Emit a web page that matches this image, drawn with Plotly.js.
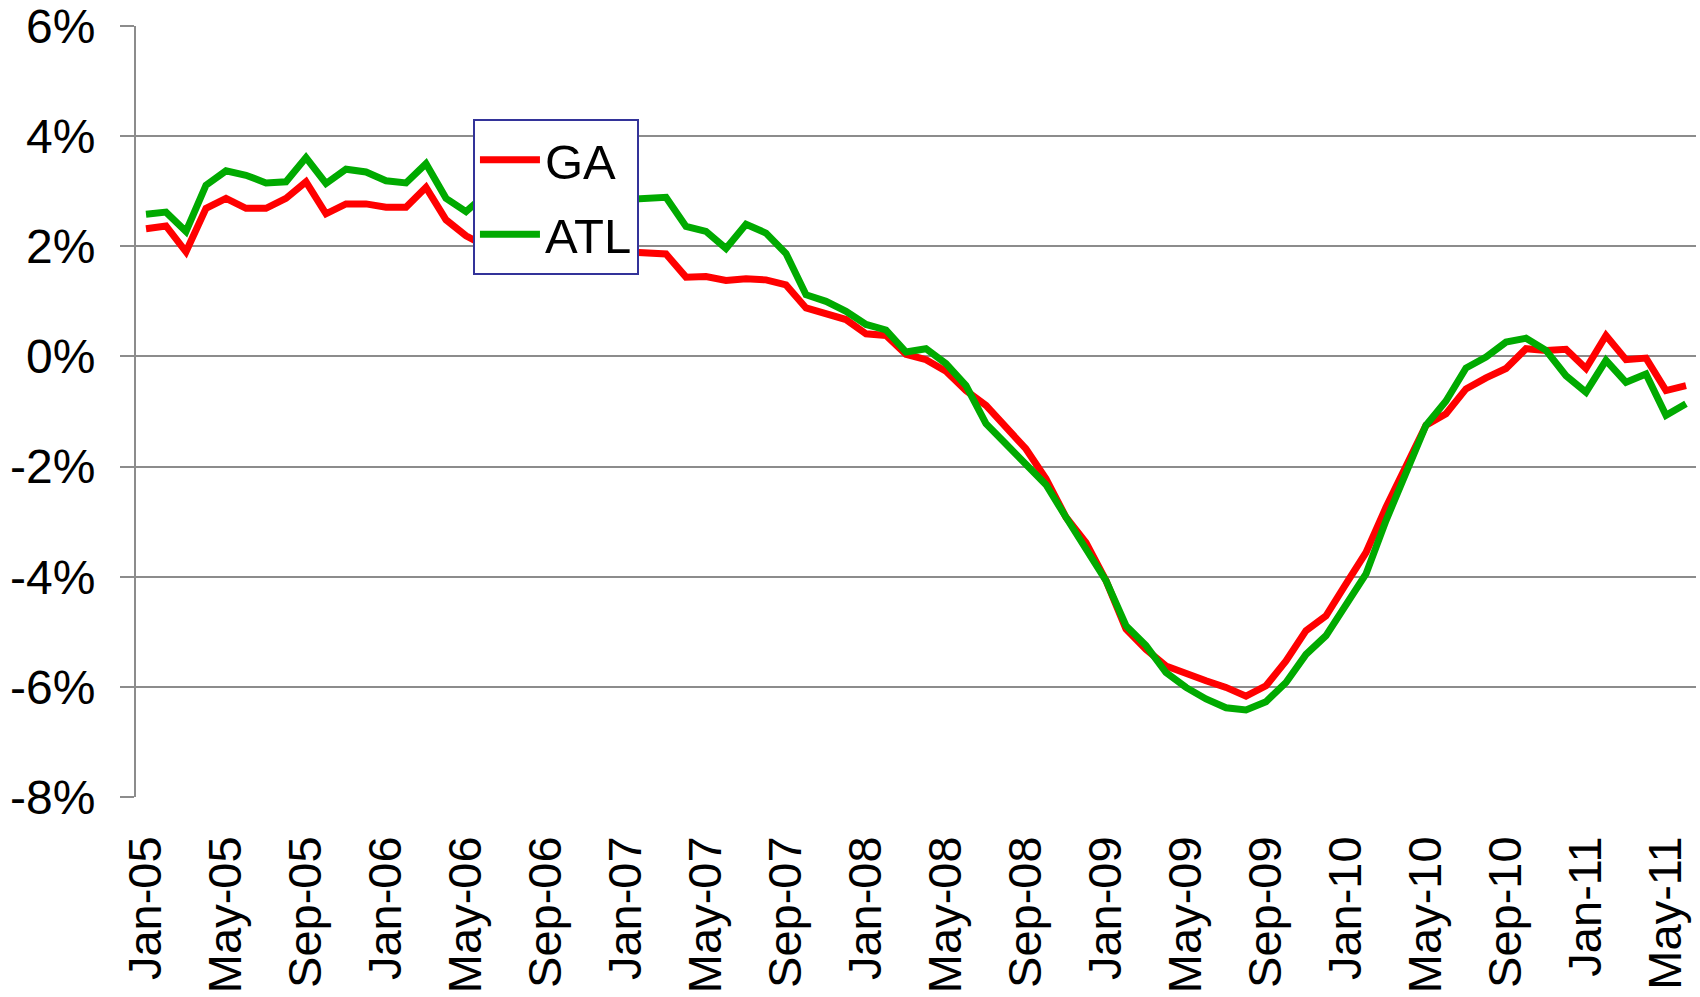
<!DOCTYPE html>
<html>
<head>
<meta charset="utf-8">
<script src="https://cdn.plot.ly/plotly-3.0.1.min.js"></script>
<style>
  html, body { margin: 0; padding: 0; background: #ffffff; }
  #chart { width: 1700px; height: 997px; }
</style>
</head>
<body>
<div id="chart"></div>
<script>
// Monthly categories, Jan-05 .. Jun-11
const months = [
  'Jan-05','Feb-05','Mar-05','Apr-05','May-05','Jun-05','Jul-05','Aug-05','Sep-05','Oct-05','Nov-05','Dec-05',
  'Jan-06','Feb-06','Mar-06','Apr-06','May-06','Jun-06','Jul-06','Aug-06','Sep-06','Oct-06','Nov-06','Dec-06',
  'Jan-07','Feb-07','Mar-07','Apr-07','May-07','Jun-07','Jul-07','Aug-07','Sep-07','Oct-07','Nov-07','Dec-07',
  'Jan-08','Feb-08','Mar-08','Apr-08','May-08','Jun-08','Jul-08','Aug-08','Sep-08','Oct-08','Nov-08','Dec-08',
  'Jan-09','Feb-09','Mar-09','Apr-09','May-09','Jun-09','Jul-09','Aug-09','Sep-09','Oct-09','Nov-09','Dec-09',
  'Jan-10','Feb-10','Mar-10','Apr-10','May-10','Jun-10','Jul-10','Aug-10','Sep-10','Oct-10','Nov-10','Dec-10',
  'Jan-11','Feb-11','Mar-11','Apr-11','May-11','Jun-11'
];

// GA series (% year-over-year)
const gaValues = [
  2.32, 2.37, 1.90, 2.69, 2.87, 2.69, 2.69, 2.87, 3.17, 2.59, 2.77, 2.77,
  2.71, 2.71, 3.07, 2.48, 2.19, 2.00, 1.85, 1.70, 1.62, 1.78, 1.92, 1.92,
  1.90, 1.89, 1.86, 1.44, 1.45, 1.38, 1.41, 1.39, 1.30, 0.88, 0.79, 0.67,
  0.41, 0.38, 0.04, -0.06, -0.27, -0.62, -0.89, -1.28, -1.68, -2.22, -2.92, -3.38,
  -4.07, -4.95, -5.32, -5.62, -5.77, -5.89, -6.01, -6.17, -5.98, -5.53, -4.98, -4.71,
  -4.13, -3.56, -2.74, -2.01, -1.25, -1.04, -0.59, -0.39, -0.22, 0.14, 0.11, 0.13,
  -0.22, 0.38, -0.06, -0.03, -0.62, -0.53
];

// ATL series (% year-over-year)
const atlValues = [
  2.58, 2.62, 2.27, 3.11, 3.37, 3.29, 3.15, 3.17, 3.61, 3.14, 3.40, 3.35,
  3.19, 3.15, 3.50, 2.87, 2.63, 2.95, 2.80, 2.60, 2.55, 2.65, 2.80, 2.85,
  2.85, 2.87, 2.89, 2.36, 2.27, 1.96, 2.40, 2.24, 1.87, 1.12, 1.00, 0.82,
  0.58, 0.48, 0.08, 0.14, -0.13, -0.53, -1.22, -1.59, -1.98, -2.33, -2.92, -3.47,
  -4.07, -4.89, -5.25, -5.74, -6.01, -6.22, -6.38, -6.42, -6.27, -5.92, -5.41, -5.07,
  -4.53, -3.95, -2.98, -2.10, -1.25, -0.81, -0.21, -0.01, 0.26, 0.33, 0.11, -0.35,
  -0.65, -0.07, -0.47, -0.32, -1.07, -0.86
];

const seriesNames = ['GA', 'ATL'];
const yTickVals = [-8, -6, -4, -2, 0, 2, 4, 6];
const yTickLabels = ['-8%', '-6%', '-4%', '-2%', '0%', '2%', '4%', '6%'];

const yRange = [-8, 6];
const xRange = [-0.5, months.length - 0.5];
const gridGray = '#8c8c8c';
const fontFam = '"Liberation Sans", Arial, sans-serif';

const traces = [
  {
    x: months, y: gaValues, name: seriesNames[0], type: 'scatter', mode: 'lines',
    line: { color: '#ff0000', width: 7 }, legendgroup: 'g1', hoverinfo: 'x+y'
  },
  {
    x: months, y: atlValues, name: seriesNames[1], type: 'scatter', mode: 'lines',
    line: { color: '#00aa00', width: 7 }, legendgroup: 'g2', hoverinfo: 'x+y'
  }
];

const layout = {
  width: 1700,
  height: 997,
  margin: { l: 136, r: 4, t: 26, b: 200, pad: 0 },
  paper_bgcolor: '#ffffff',
  plot_bgcolor: '#ffffff',
  font: { family: fontFam, color: '#000000' },
  showlegend: true,
  legend: {
    x: 0.216, y: 0.879, xanchor: 'left', yanchor: 'top',
    bgcolor: '#ffffff', bordercolor: '#333399', borderwidth: 2,
    font: { family: fontFam, size: 49, color: '#000000' },
    traceorder: 'grouped', tracegroupgap: 8,
    itemwidth: 60
  },
  xaxis: {
    type: 'category',
    range: xRange,
    tickmode: 'linear', tick0: 0, dtick: 4,
    tickangle: -90,
    ticks: '',
    showgrid: false, showline: false, zeroline: false,
    tickfont: { family: fontFam, size: 47, color: '#000000' },
    ticklabelstandoff: 29,
    ticklabeloverflow: 'allow'
  },
  xaxis2: {
    overlaying: 'x', anchor: 'free',
    position: (0 - yRange[0]) / (yRange[1] - yRange[0]),
    type: 'linear', range: xRange,
    tickmode: 'linear', tick0: -0.5, dtick: 4,
    ticks: 'outside', ticklen: 13, tickwidth: 2, tickcolor: gridGray,
    showticklabels: false, showgrid: false, showline: true,
    linecolor: gridGray, linewidth: 2, zeroline: false
  },
  yaxis: {
    range: yRange,
    tickmode: 'array', tickvals: yTickVals, ticktext: yTickLabels,
    showgrid: true, gridcolor: gridGray, gridwidth: 2,
    showline: true, linecolor: gridGray, linewidth: 2,
    ticks: 'outside', ticklen: 14, tickwidth: 2, tickcolor: gridGray,
    zeroline: false,
    tickfont: { family: fontFam, size: 48, color: '#000000' },
    ticklabelstandoff: 15,
    ticklabeloverflow: 'allow'
  }
};

Plotly.newPlot('chart', traces, layout, { displayModeBar: false, staticPlot: true });
</script>
</body>
</html>
